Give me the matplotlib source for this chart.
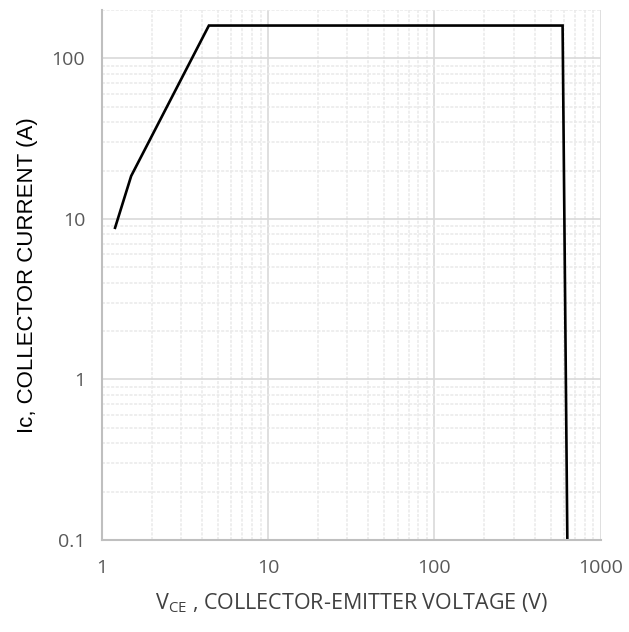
import matplotlib.pyplot as plt
from matplotlib.ticker import LogLocator, FixedLocator, NullFormatter

# safe operating area curve
vce = [1.2, 1.5, 4.4, 590, 630]
ic = [8.8, 18.5, 160, 160, 0.1]

x_ticks = [1, 10, 100, 1000]
x_labels = ['1', '10', '100', '1000']
y_ticks = [0.1, 1, 10, 100]
y_labels = ['0.1', '1', '10', '100']

fig = plt.figure(figsize=(6.29, 6.32), dpi=100)
ax = fig.add_axes([0.162, 0.1456, 0.793, 0.8386])

ax.plot(vce, ic, color='black', linewidth=1.9, solid_joinstyle='miter')

ax.set_xscale('log')
ax.set_yscale('log')
ax.set_xlim(1, 1000)
ax.set_ylim(0.1, 200)

ax.xaxis.set_major_locator(FixedLocator(x_ticks))
ax.set_xticklabels(x_labels)
ax.yaxis.set_major_locator(FixedLocator(y_ticks))
ax.set_yticklabels(y_labels)
ax.xaxis.set_minor_locator(LogLocator(base=10, subs=range(2, 10)))
ax.yaxis.set_minor_locator(LogLocator(base=10, subs=range(2, 10)))
ax.xaxis.set_minor_formatter(NullFormatter())
ax.yaxis.set_minor_formatter(NullFormatter())

# major grid solid, minor grid fine dashes (excel style)
ax.grid(which='major', color='#d9d9d9', linewidth=1.2, linestyle='-')
ax.grid(which='minor', color='#e9e9e9', linewidth=1.1, linestyle=(0, (2, 1)))
ax.set_axisbelow(True)

ax.tick_params(which='both', length=0, labelsize=14, labelcolor='#595959')
ax.tick_params(axis='x', pad=14)
ax.tick_params(axis='y', pad=12)
for lbl in ax.get_xticklabels() + ax.get_yticklabels():
    lbl.set_family('Open Sans')

for s in ['top', 'right']:
    ax.spines[s].set_visible(False)
for s in ['left', 'bottom']:
    ax.spines[s].set_color('#bfbfbf')
    ax.spines[s].set_linewidth(1.5)

ax.set_xlabel('V$_{\\mathregular{CE}}$ , COLLECTOR-EMITTER VOLTAGE (V)',
              fontsize=15.5, color='#404040', family='Open Sans', labelpad=10)
ax.set_ylabel('Ic, COLLECTOR CURRENT (A)', fontsize=16, color='black',
              family='Liberation Sans', labelpad=10)

plt.savefig('out.png', dpi=100)
